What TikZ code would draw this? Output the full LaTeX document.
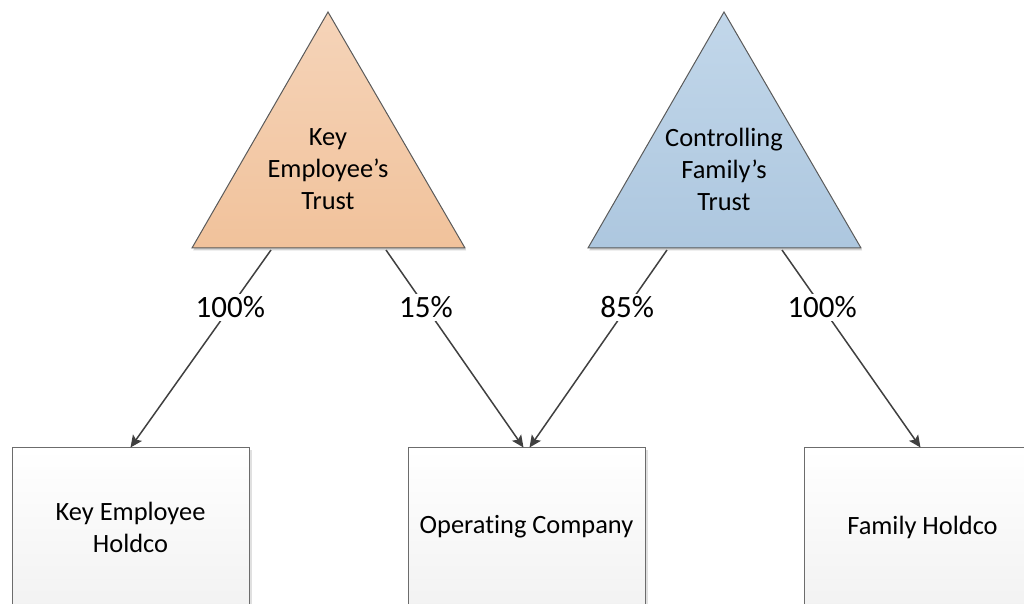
\documentclass[tikz,border=0pt]{standalone}
\usepackage{fontspec}
\setmainfont{Carlito}[Ligatures=NoCommon]
\usepackage{xcolor}
\usepackage{tikz}
\usetikzlibrary{arrows.meta, shadows}

\definecolor{peach}{HTML}{F1C29B}
\definecolor{peachtop}{HTML}{F5D4B9}
\definecolor{skyblue}{HTML}{ADC7DF}
\definecolor{skybluetop}{HTML}{C2D7EA}
\definecolor{edgegray}{HTML}{5A5A5A}
\definecolor{arrowgray}{HTML}{404040}

\begin{document}
\begin{tikzpicture}[
    x=0.5pt, y=-0.5pt,
    font=\fontsize{13.2}{16}\selectfont,
    trust/.style={
        draw=edgegray, line width=0.5pt,
        top color=#1top, bottom color=#1,
        drop shadow={shadow xshift=0.6pt, shadow yshift=-1.2pt,
                     fill=black!35, opacity=0.5}
    },
    label/.style={align=center, inner sep=0pt},
    holdco/.style={
        rectangle, draw=gray!85!black, line width=0.5pt,
        top color=white, bottom color=black!5,
        minimum width=118.5pt, minimum height=79pt,
        align=center, inner sep=2pt,
        drop shadow={shadow xshift=1.5pt, shadow yshift=-1pt,
                     fill=black!20, opacity=0.6}
    },
    conn/.style={-{Stealth[length=6pt, width=5.5pt, inset=1.2pt]},
                 line width=0.75pt, arrowgray},
    pct/.style={fill=white, text=black, inner sep=1.5pt, pos=0.29,
                font=\fontsize{15.5}{18}\selectfont}
]

\useasboundingbox (0,0) rectangle (1024,604);
\clip (0,0) rectangle (1024,604);

% Trusts at top
\coordinate (ketL) at (192,248);
\coordinate (ketT) at (328,12);
\coordinate (ketR) at (465,248);
\path[trust=peach] (ketL) -- (ketT) -- (ketR) -- cycle;
\node[label] (ket) at (328,169) {Key\\Employee’s\\Trust};

\coordinate (cftL) at (588,248);
\coordinate (cftT) at (724,12);
\coordinate (cftR) at (861,248);
\path[trust=skyblue] (cftL) -- (cftT) -- (cftR) -- cycle;
\node[label] (cft) at (724,169) {Controlling\\Family’s\\Trust};

% Holding companies
\node[holdco] (keh)  at (130.5,527) {Key Employee\\Holdco};
\node[holdco] (opco) at (526.5,527) {Operating Company};
\node[holdco] (fho)  at (922.5,527) {Family Holdco};

% Ownership arrows
\coordinate (ket-a) at (271,250);
\coordinate (ket-b) at (386,250);
\coordinate (cft-a) at (667,250);
\coordinate (cft-b) at (782,250);

\draw[conn] (ket-a) -- node[pct] {100\%} (keh.north);
\draw[conn] (ket-b) -- node[pct] {15\%} ([xshift=-1.5pt]opco.north);
\draw[conn] (cft-a) -- node[pct] {85\%} ([xshift=1.5pt]opco.north);
\draw[conn] (cft-b) -- node[pct] {100\%} ([xshift=-1pt]fho.north);

\end{tikzpicture}
\end{document}
